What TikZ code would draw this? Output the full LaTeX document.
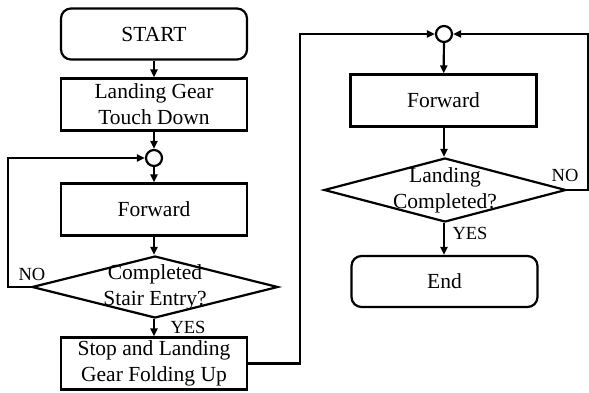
\documentclass[tikz,border=0pt]{standalone}
\usepackage{fontspec}
\setmainfont{Liberation Serif}
\usepackage{tikz}
\usetikzlibrary{arrows.meta,positioning,shapes.geometric}
\tikzset{
  term/.style={rectangle, rounded corners=10pt, draw=black, line width=2.2pt, align=center,
               minimum width=#1, minimum height=51pt, inner sep=2pt},
  term/.default={186pt},
  proc/.style={rectangle, draw=black, line width=2.2pt, align=center,
               minimum width=186pt, minimum height=52pt, inner sep=1pt},
  junc/.style={circle, draw=black, line width=2.2pt, minimum size=16pt, inner sep=0pt},
  decision/.style={diamond, draw=black, line width=2.2pt, minimum width=#1, inner sep=0pt},
  yesno/.style={font=\fontsize{18.5pt}{20pt}\selectfont, inner sep=0pt},
  arr/.style={-{Triangle[length=8pt,width=7pt]}, line width=2.2pt, black},
}

\begin{document}
\begin{tikzpicture}[x=1pt,y=-1pt,font=\fontsize{21.5pt}{26pt}\selectfont]
\useasboundingbox (0,0) rectangle (589,392);
% left column
\node[term]  (start) at (154,34)    {START};
\node[proc]  (touch) at (154,104.5) {Landing Gear\\Touch Down};
\node[junc]  (j1)    at (154,158)   {};
\node[proc]  (fwd1)  at (154,209.5) {Forward};
\node[decision=246pt, minimum height=62pt,
      label={[align=center]center:{Completed\\Stair Entry?}}] (stair) at (155,287) {};
\node[proc]  (stop)  at (154,363.5) {Stop and Landing\\Gear Folding Up};
% right column
\node[junc]  (j2)    at (444,34)    {};
\node[proc]  (fwd2)  at (443.5,100.5) {Forward};
\node[decision=242pt, minimum height=64pt,
      label={[align=center]center:{Landing\\Completed?}}] (land) at (445,190) {};
\node[term]  (end)   at (444.5,281.5) {End};
% yes / no labels
\node[yesno] (no1)  at (32,274)  {NO};
\node[yesno] (yes1) at (188,327) {YES};
\node[yesno] (no2)  at (565,175) {NO};
\node[yesno] (yes2) at (470,233) {YES};
% connectors
\draw[arr] (start) -- (touch);
\draw[arr] (touch) -- (j1);
\draw[arr] (j1) -- (fwd1);
\draw[arr] (fwd1) -- (stair.north -| fwd1);
\draw[arr] (stair.south -| stop) -- (stop);
\draw[arr] (stair.west) -- ++(-23,0) |- (j1.west);
\draw[arr] (stop.east) -- ++(52,0) |- (j2.west);
\draw[arr] (j2) -- (fwd2);
\draw[arr] (fwd2.south -| j2) -- (land.north -| j2);
\draw[arr] (land.east) -- ++(21,0) |- (j2.east);
\draw[arr] (land.south -| j2) -- (end.north -| j2);
\end{tikzpicture}
\end{document}
